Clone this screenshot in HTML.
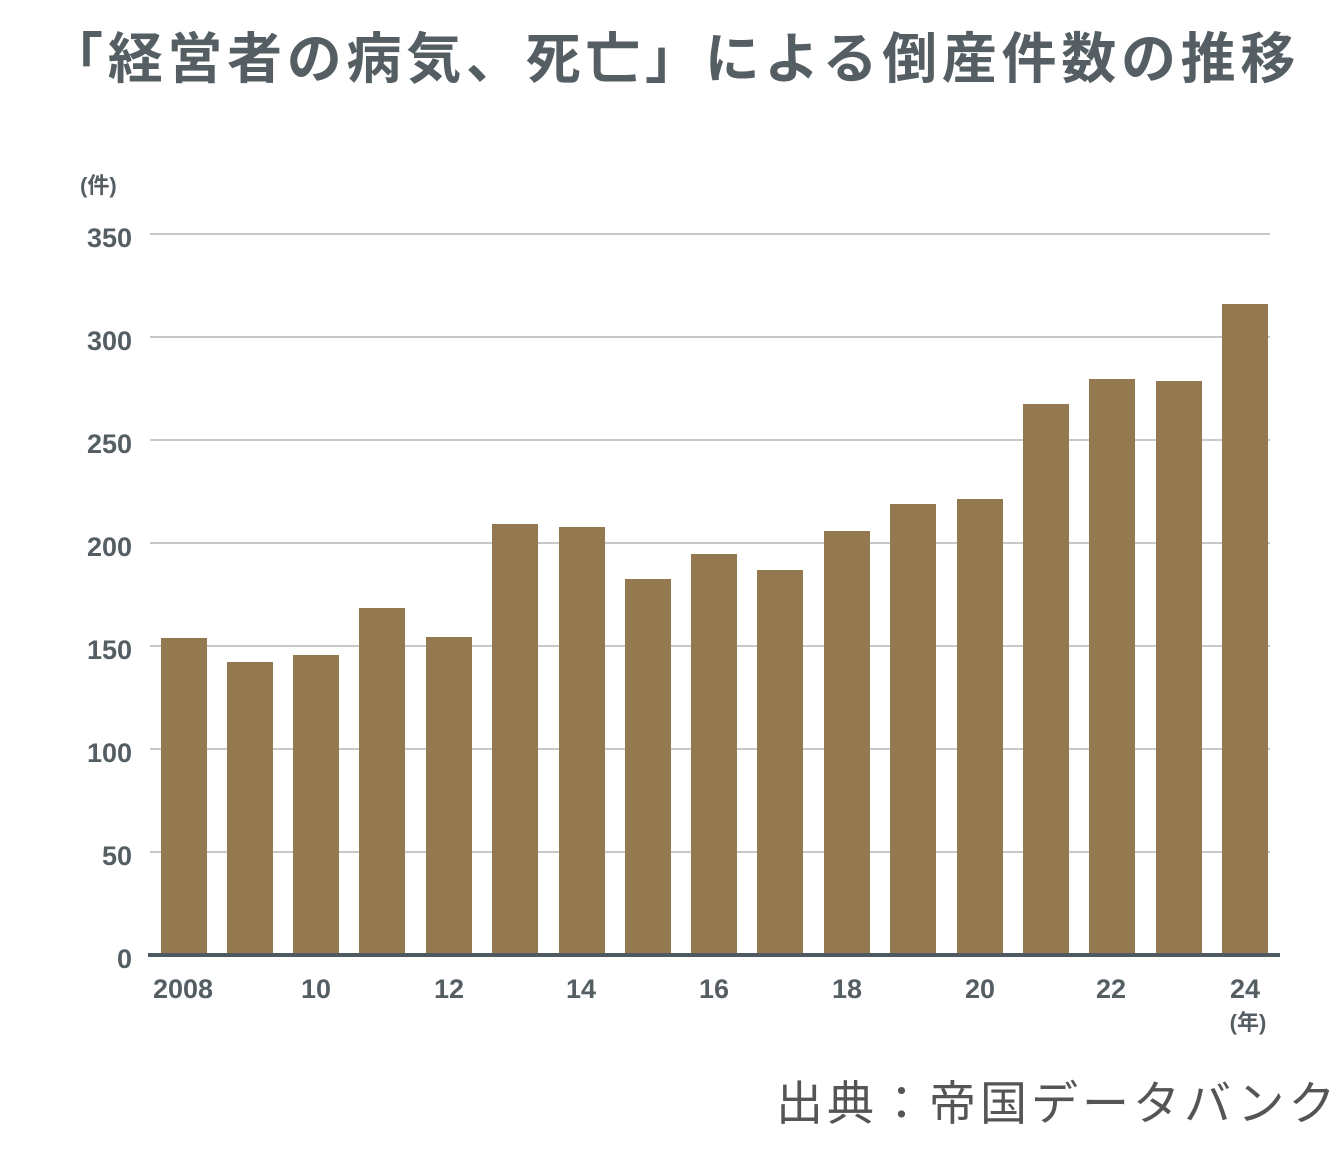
<!DOCTYPE html>
<html><head><meta charset="utf-8"><style>
html,body{margin:0;padding:0;background:#fff;}
body{width:1340px;height:1148px;overflow:hidden;}
</style></head><body>
<svg width="1340" height="1148" xmlns="http://www.w3.org/2000/svg" font-family="'Liberation Sans','Noto Sans CJK JP',sans-serif">
<text x="48" y="78" font-size="55" font-weight="bold" fill="#545e63" letter-spacing="4.7">「経営者の病気、死亡」による倒産件数の推移</text>
<text x="80" y="193" font-size="22" font-weight="bold" fill="#545e63">(件)</text>
<g stroke="#b5b5b5" stroke-width="1.5">
<line x1="150" x2="1270" y1="234" y2="234"/>
<line x1="150" x2="1270" y1="337" y2="337"/>
<line x1="150" x2="1270" y1="440" y2="440"/>
<line x1="150" x2="1270" y1="543" y2="543"/>
<line x1="150" x2="1270" y1="646" y2="646"/>
<line x1="150" x2="1270" y1="749" y2="749"/>
<line x1="150" x2="1270" y1="852" y2="852"/>
</g>
<g font-size="27" font-weight="bold" fill="#545e63" text-anchor="end">
<text x="132" y="247">350</text>
<text x="132" y="350">300</text>
<text x="132" y="453">250</text>
<text x="132" y="556">200</text>
<text x="132" y="659">150</text>
<text x="132" y="762">100</text>
<text x="132" y="865">50</text>
<text x="132" y="968">0</text>
</g>
<g fill="#94784f">
<rect x="161" y="638" width="46" height="317"/>
<rect x="227" y="662" width="46" height="293"/>
<rect x="293" y="655" width="46" height="300"/>
<rect x="359" y="608" width="46" height="347"/>
<rect x="426" y="637" width="46" height="318"/>
<rect x="492" y="524" width="46" height="431"/>
<rect x="559" y="527" width="46" height="428"/>
<rect x="625" y="579" width="46" height="376"/>
<rect x="691" y="554" width="46" height="401"/>
<rect x="757" y="570" width="46" height="385"/>
<rect x="824" y="531" width="46" height="424"/>
<rect x="890" y="504" width="46" height="451"/>
<rect x="957" y="499" width="46" height="456"/>
<rect x="1023" y="404" width="46" height="551"/>
<rect x="1089" y="379" width="46" height="576"/>
<rect x="1156" y="381" width="46" height="574"/>
<rect x="1222" y="304" width="46" height="651"/>
</g>
<rect x="148" y="953" width="1132" height="4" fill="#4f5a60"/>
<g font-size="27" font-weight="bold" fill="#545e63" text-anchor="middle">
<text x="183" y="998">2008</text>
<text x="316" y="998">10</text>
<text x="449" y="998">12</text>
<text x="581" y="998">14</text>
<text x="714" y="998">16</text>
<text x="847" y="998">18</text>
<text x="980" y="998">20</text>
<text x="1111" y="998">22</text>
<text x="1245" y="998">24</text>
<text x="1248" y="1030" font-size="22">(年)</text>
</g>
<text x="776" y="1120" font-size="47" fill="#555" letter-spacing="4">出典：帝国データバンク</text>
</svg>
</body></html>
